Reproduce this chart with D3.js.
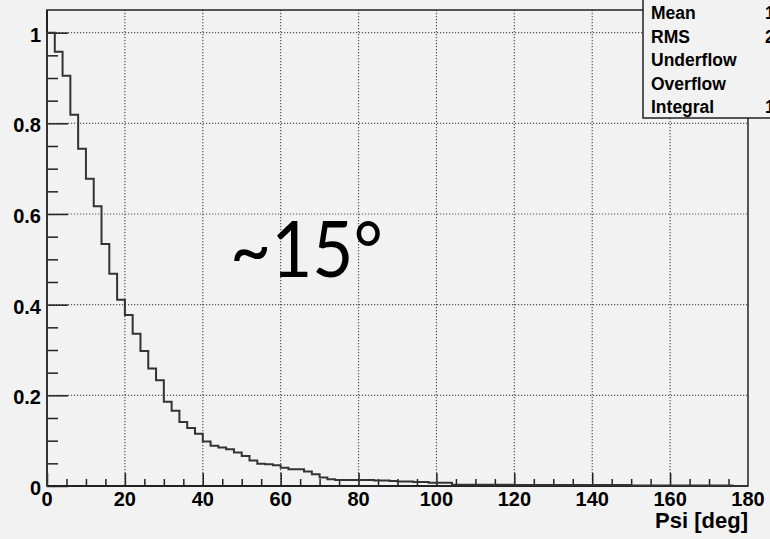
<!DOCTYPE html>
<html>
<head>
<meta charset="utf-8">
<script src="https://cdn.jsdelivr.net/npm/d3@7"></script>
<style>
  html, body { margin: 0; padding: 0; background: #f2f2f2; }
  svg { display: block; }
</style>
</head>
<body>
<div id="chart"></div>
<script>
// histogram of Psi, 2 deg bins from 0 to 180, normalised to first bin
const binLow = d3.range(0, 180, 2);
const binValues = [
  1.000, 0.958, 0.905, 0.819, 0.744, 0.678, 0.617, 0.534, 0.468, 0.411,
  0.377, 0.336, 0.298, 0.259, 0.233, 0.186, 0.166, 0.141, 0.128, 0.115,
  0.098, 0.089, 0.085, 0.081, 0.074, 0.066, 0.056, 0.049, 0.048, 0.046,
  0.040, 0.037, 0.037, 0.032, 0.026, 0.019, 0.015, 0.013, 0.013, 0.013,
  0.013, 0.013, 0.012, 0.012, 0.011, 0.010, 0.010, 0.009, 0.009, 0.007,
  0.007, 0.007, 0.003, 0.003, 0.003, 0.003, 0.003, 0.003, 0.003, 0.003,
  0.002, 0.002, 0.002, 0.002, 0.002, 0.002, 0.002, 0.002, 0.002, 0.002,
  0.002, 0.002, 0.002, 0.002, 0.002, 0.001, 0.001, 0.001, 0.001, 0.001,
  0.001, 0.001, 0.001, 0.001, 0.001, 0.001, 0.001, 0.001, 0.000, 0.000
];
const xTicks = [0, 20, 40, 60, 80, 100, 120, 140, 160, 180];
const yTicks = [0, 0.2, 0.4, 0.6, 0.8, 1];
const statNames = ['Mean', 'RMS', 'Underflow', 'Overflow', 'Integral'];
const statValues = ['16.48', '20.31', '0', '0', '11.25'];
const xTitle = 'Psi [deg]';
const note = '~15\u00b0';

const margin = {top: 10, right: 22, bottom: 53, left: 47};
const totalW = 770, totalH = 539;
const width = totalW - margin.left - margin.right;
const height = totalH - margin.top - margin.bottom;
const labelFont = '"Liberation Sans", Arial, Helvetica, sans-serif';

const svg = d3.select('#chart').append('svg')
  .attr('width', totalW)
  .attr('height', totalH);

svg.append('rect')
  .attr('width', totalW).attr('height', totalH)
  .attr('fill', '#f2f2f2');

const g = svg.append('g')
  .attr('transform', `translate(${margin.left},${margin.top})`);

const x = d3.scaleLinear().domain([0, 180]).range([0, width]);
const y = d3.scaleLinear().domain([0, 1.05]).range([height, 0]);

// dotted grid
g.append('g')
  .attr('stroke', '#555')
  .attr('stroke-width', 1.2)
  .attr('stroke-dasharray', '1.2,1.8')
  .call(s => s.selectAll('.gx')
    .data(xTicks.filter(d => d > 0 && d < 180))
    .join('line')
      .attr('x1', d => x(d)).attr('x2', d => x(d))
      .attr('y1', 0).attr('y2', height))
  .call(s => s.selectAll('.gy')
    .data(yTicks.filter(d => d > 0))
    .join('line')
      .attr('x1', 0).attr('x2', width)
      .attr('y1', d => y(d)).attr('y2', d => y(d)));

// frame
g.append('rect')
  .attr('width', width).attr('height', height)
  .attr('fill', 'none')
  .attr('stroke', '#222')
  .attr('stroke-width', 1.5);

// x axis: major every 20, minor every 5, ticks pointing up
const xAxis = g.append('g').attr('transform', `translate(0,${height})`);
xAxis.append('g')
  .call(d3.axisTop(x).tickValues(d3.range(5, 180, 5).filter(d => d % 20)).tickSize(7).tickFormat(''))
  .call(a => a.select('.domain').remove());
xAxis.append('g')
  .call(d3.axisTop(x).tickValues(xTicks.filter(d => d < 180)).tickSize(13).tickFormat(''))
  .call(a => a.select('.domain').remove());
xAxis.selectAll('line').attr('stroke', '#222').attr('stroke-width', 1.5);
xAxis.append('g')
  .selectAll('text')
  .data(xTicks)
  .join('text')
    .attr('x', d => x(d))
    .attr('y', 20)
    .attr('text-anchor', 'middle')
    .attr('font-family', labelFont)
    .attr('font-weight', 'bold')
    .attr('font-size', 20)
    .text(d => d);
xAxis.append('line')
  .attr('x1', 0).attr('x2', width)
  .attr('stroke', '#222').attr('stroke-width', 2);

// y axis: major every 0.2, minor every 0.05, ticks pointing right
const yAxis = g.append('g');
yAxis.append('g')
  .call(d3.axisRight(y).tickValues(d3.range(0.05, 1.04, 0.05).filter(d => Math.abs(d * 5 - Math.round(d * 5)) > 0.01)).tickSize(11).tickFormat(''))
  .call(a => a.select('.domain').remove());
yAxis.append('g')
  .call(d3.axisRight(y).tickValues(yTicks).tickSize(21).tickFormat(''))
  .call(a => a.select('.domain').remove());
yAxis.selectAll('line').attr('stroke', '#222').attr('stroke-width', 1.5);
yAxis.append('g')
  .selectAll('text')
  .data(yTicks)
  .join('text')
    .attr('x', -6)
    .attr('y', d => y(d) + 9)
    .attr('text-anchor', 'end')
    .attr('font-family', labelFont)
    .attr('font-weight', 'bold')
    .attr('font-size', 20)
    .text(d => d);
yAxis.append('line')
  .attr('y1', 0).attr('y2', height)
  .attr('stroke', '#222').attr('stroke-width', 2);

// histogram outline
const pts = [[0, 0]].concat(binLow.map((d, i) => [d, binValues[i]]), [[180, binValues[binValues.length - 1]]]);
g.append('path')
  .datum(pts)
  .attr('fill', 'none')
  .attr('stroke', '#333')
  .attr('stroke-width', 2)
  .attr('d', d3.line()
    .x(d => x(d[0]))
    .y(d => y(d[1]))
    .curve(d3.curveStepAfter));

// annotation
svg.append('text')
  .attr('x', 230)
  .attr('y', 277)
  .attr('font-family', 'Lato, "Open Sans", sans-serif')
  .attr('font-size', 78)
  .attr('textLength', 153)
  .attr('lengthAdjust', 'spacingAndGlyphs')
  .attr('fill', '#000')
  .text(note);

// stats box (runs off the right edge)
const stats = svg.append('g');
stats.append('rect')
  .attr('x', 643).attr('y', -5)
  .attr('width', 140).attr('height', 123)
  .attr('fill', '#f2f2f2')
  .attr('stroke', '#222')
  .attr('stroke-width', 1.5);
stats.selectAll('.name')
  .data(statNames)
  .join('text')
    .attr('x', 651)
    .attr('y', (d, i) => 19 + i * 23.6)
    .attr('font-family', labelFont)
    .attr('font-weight', 'bold')
    .attr('font-size', 17.5)
    .text(d => d);
stats.selectAll('.val')
  .data(statValues)
  .join('text')
    .attr('x', 765)
    .attr('y', (d, i) => 19 + i * 23.6)
    .attr('font-family', labelFont)
    .attr('font-weight', 'bold')
    .attr('font-size', 17.5)
    .text(d => d === '0' ? '' : d);

// axis title
svg.append('text')
  .attr('x', margin.left + width)
  .attr('y', 528)
  .attr('text-anchor', 'end')
  .attr('font-family', labelFont)
  .attr('font-weight', 'bold')
  .attr('font-size', 22)
  .text(xTitle);
</script>
</body>
</html>
